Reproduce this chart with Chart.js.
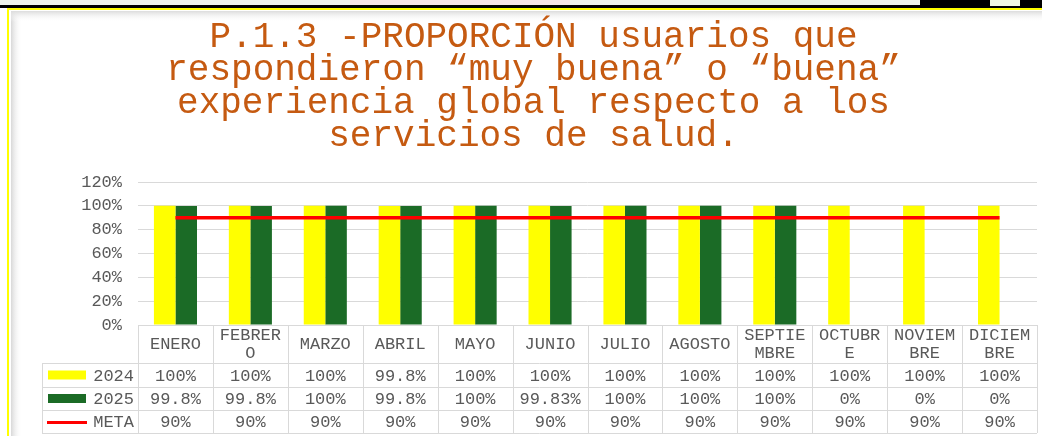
<!DOCTYPE html>
<html><head><meta charset="utf-8">
<script src="https://cdn.jsdelivr.net/npm/chart.js@4"></script>
<style>html,body{margin:0;padding:0;background:#fff;overflow:hidden}</style>
</head><body>
<canvas id="c" width="1042" height="436"></canvas>
<script>
const categories = ['ENERO','FEBRERO','MARZO','ABRIL','MAYO','JUNIO','JULIO','AGOSTO','SEPTIEMBRE','OCTUBRE','NOVIEMBRE','DICIEMBRE'];
const headerLabels = [['ENERO'],['FEBRER','O'],['MARZO'],['ABRIL'],['MAYO'],['JUNIO'],['JULIO'],['AGOSTO'],['SEPTIE','MBRE'],['OCTUBR','E'],['NOVIEM','BRE'],['DICIEM','BRE']];
const values2024 = [100,100,100,99.8,100,100,100,100,100,100,100,100];
const values2025 = [99.8,99.8,100,99.8,100,99.83,100,100,100,0,0,0];
const valuesMeta = [90,90,90,90,90,90,90,90,90,90,90,90];
const seriesNames = ['2024','2025','META'];
const yTicks = [0,20,40,60,80,100,120];
const titleLines = ['P.1.3 -PROPORCIÓN usuarios que','respondieron “muy buena” o “buena”','experiencia global respecto a los','servicios de salud.'];

const MONO = '"Liberation Mono", "Courier New", monospace';
const TXT = '#595959';
const BORDER = '#D9D9D9';

const framePlugin = {
  id: 'frame',
  beforeDraw(chart) {
    const ctx = chart.ctx, W = chart.width, H = chart.height;
    ctx.save();
    ctx.fillStyle = '#fff'; ctx.fillRect(0,0,W,H);
    // faint decorative top strip
    ctx.fillStyle = '#eef3ea'; ctx.fillRect(0,0,W,6);
    ctx.fillStyle = '#f6e3e6'; ctx.fillRect(350,0,220,6);
    ctx.fillStyle = '#e4efe4'; ctx.fillRect(700,0,120,6);
    ctx.fillStyle = '#f6e3e6'; ctx.fillRect(1110,0,100,6);
    ctx.fillStyle = '#000'; ctx.fillRect(0,5,W,3);
    ctx.fillStyle = '#000'; ctx.fillRect(920,0,W-920,7);
    ctx.fillStyle = '#f0f7e0'; ctx.fillRect(990,0,30,6);
    // yellow border
    ctx.fillStyle = '#FFFF00';
    ctx.fillRect(7,8,W-7,2);
    ctx.fillRect(7,8,2,H-8);
    // inner shadow
    let g = ctx.createLinearGradient(11,0,22,0);
    g.addColorStop(0,'#d8d8d8'); g.addColorStop(1,'rgba(255,255,255,0)');
    ctx.fillStyle = g; ctx.fillRect(11,11,11,H-11);
    g = ctx.createLinearGradient(0,11,0,22);
    g.addColorStop(0,'#dcdcdc'); g.addColorStop(1,'rgba(255,255,255,0)');
    ctx.fillStyle = g; ctx.fillRect(11,11,W-11,11);
    ctx.restore();
  }
};

const tablePlugin = {
  id: 'dataTable',
  afterDraw(chart) {
    const ctx = chart.ctx, xs = chart.scales.x, ca = chart.chartArea;
    const n = categories.length;
    const colW = (ca.right - ca.left) / n;
    const top = ca.bottom;
    const rowsY = [top, top + 38, top + 62, top + 85, top + 108];
    const legL = 42;
    ctx.save();
    ctx.strokeStyle = BORDER; ctx.lineWidth = 1;
    ctx.beginPath();
    ctx.moveTo(ca.left, rowsY[0] + 0.5); ctx.lineTo(ca.right, rowsY[0] + 0.5);
    for (let r = 1; r < rowsY.length; r++) {
      ctx.moveTo(legL, rowsY[r] + 0.5); ctx.lineTo(ca.right, rowsY[r] + 0.5);
    }
    for (let i = 0; i <= n; i++) {
      const x = Math.round(xs.getPixelForValue(0) - colW/2 + i*colW) + 0.5;
      ctx.moveTo(x, rowsY[0]); ctx.lineTo(x, rowsY[4]);
    }
    ctx.moveTo(legL + 0.5, rowsY[1]); ctx.lineTo(legL + 0.5, rowsY[4]);
    ctx.stroke();

    ctx.fillStyle = TXT;
    ctx.font = '17px ' + MONO;
    ctx.textAlign = 'center'; ctx.textBaseline = 'middle';
    const series = [values2024, values2025, valuesMeta];
    for (let i = 0; i < n; i++) {
      const cx = xs.getPixelForValue(i);
      const lab = headerLabels[i];
      if (lab.length === 1) ctx.fillText(lab[0], cx, rowsY[0] + 19);
      else { ctx.fillText(lab[0], cx, rowsY[0] + 10); ctx.fillText(lab[1], cx, rowsY[0] + 28); }
      for (let s = 0; s < 3; s++) {
        ctx.fillText(series[s][i] + '%', cx, (rowsY[s+1] + rowsY[s+2]) / 2 + 1);
      }
    }
    // legend keys
    const ds = chart.data.datasets;
    ctx.textAlign = 'right';
    for (let s = 0; s < 3; s++) {
      const cy = (rowsY[s+1] + rowsY[s+2]) / 2;
      if (s < 2) { ctx.fillStyle = ds[s].backgroundColor; ctx.fillRect(48, cy - 4.5, 38, 9); }
      else { ctx.strokeStyle = ds[s].borderColor; ctx.lineWidth = 3; ctx.beginPath(); ctx.moveTo(47, cy + 1); ctx.lineTo(87, cy + 1); ctx.stroke(); }
      ctx.fillStyle = TXT;
      ctx.fillText(seriesNames[s], 134, cy + 1);
    }
    ctx.restore();
  }
};

new Chart(document.getElementById('c'), {
  type: 'bar',
  data: {
    labels: categories,
    datasets: [
      { label: seriesNames[0], data: values2024, backgroundColor: '#FFFF00', order: 2, categoryPercentage: 0.575, barPercentage: 1.0 },
      { label: seriesNames[1], data: values2025, backgroundColor: '#1B6B26', order: 2, categoryPercentage: 0.575, barPercentage: 1.0 },
      { type: 'line', label: seriesNames[2], data: valuesMeta, borderColor: '#FF0000', backgroundColor: '#FF0000', borderWidth: 3.5, pointRadius: 0, order: 0, tension: 0 }
    ]
  },
  options: {
    responsive: false,
    animation: false,
    devicePixelRatio: 1,
    layout: { padding: { left: 30, right: 5, top: 0, bottom: 111 } },
    plugins: {
      legend: { display: false },
      tooltip: { enabled: false },
      title: {
        display: true,
        text: titleLines,
        color: '#C55A11',
        font: { family: MONO, size: 36, weight: 'normal', lineHeight: 33/36 },
        padding: { top: 21, bottom: 29 }
      }
    },
    scales: {
      x: { display: false, offset: true },
      y: {
        min: 0, max: 120,
        afterBuildTicks: s => { s.ticks = yTicks.map(v => ({ value: v })); },
        afterFit: s => { s.width = 108; },
        ticks: { color: TXT, font: { family: MONO, size: 17 }, padding: 16, callback: v => v + '%' },
        grid: { color: BORDER, drawTicks: false },
        border: { display: false }
      }
    }
  },
  plugins: [framePlugin, tablePlugin]
});
</script>
</body></html>
